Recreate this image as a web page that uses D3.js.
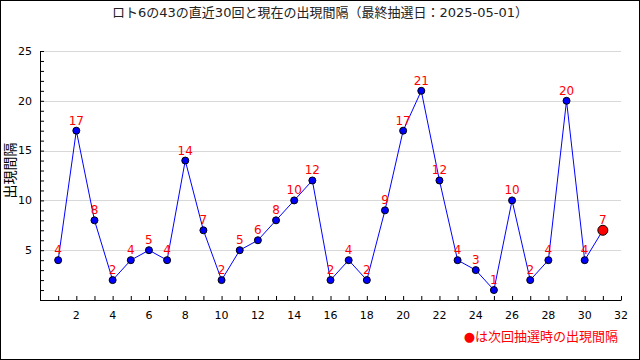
<!DOCTYPE html>
<html>
<head>
<meta charset="utf-8">
<script src="https://cdn.jsdelivr.net/npm/d3@7"></script>
<style>
  body { margin: 0; background: #fff; }
  text { font-family: "DejaVu Sans", "Noto Sans CJK JP", sans-serif; }
</style>
</head>
<body>
<div id="plot"></div>
<script>
// Width and height
const w = 640;
const h = 360;
const margin = {top: 51, right: 19, bottom: 60, left: 40};
const innerWidth = w - margin.left - margin.right;
const innerHeight = h - margin.top - margin.bottom;

// data
const title = "ロト6の43の直近30回と現在の出現間隔（最終抽選日：2025-05-01）";
const yLabel = "出現間隔";
const legendText = "●は次回抽選時の出現間隔";
const draws = d3.range(1, 31);
const gaps = [4, 17, 8, 2, 4, 5, 4, 14, 7, 2, 5, 6, 8, 10, 12, 2, 4, 2, 9, 17, 21, 12, 4, 3, 1, 10, 2, 4, 20, 4];
const nextDraw = 31;
const nextGap = 7;
const xTicks = [2, 4, 6, 8, 10, 12, 14, 16, 18, 20, 22, 24, 26, 28, 30, 32];
const yTicks = [5, 10, 15, 20, 25];

const series = draws.map((d, i) => ({x: d, y: gaps[i]}));
const current = {x: nextDraw, y: nextGap};

const svg = d3.select("div#plot")
  .append("svg")
    .attr("width", w)
    .attr("height", h);

// background + frame
svg.append("rect")
  .attr("x", 0.5).attr("y", 0.5)
  .attr("width", w - 1).attr("height", h - 1)
  .attr("fill", "#fff")
  .attr("stroke", "#000");

const g = svg.append("g")
  .attr("transform", `translate(${margin.left}, ${margin.top})`);

const xScale = d3.scaleLinear()
  .domain([0, 32])
  .range([0, innerWidth]);

const yScale = d3.scaleLinear()
  .domain([0, 25])
  .range([innerHeight, 0]);

// grid lines
g.append("g")
  .selectAll("line")
  .data(yTicks)
  .enter()
  .append("line")
    .attr("x1", 0)
    .attr("x2", innerWidth)
    .attr("y1", d => Math.round(yScale(d)) + 0.5)
    .attr("y2", d => Math.round(yScale(d)) + 0.5)
    .attr("stroke", "#d8d8d8");

// y axis, minor ticks inside
const yAxis = d3.axisRight(yScale)
  .tickValues(d3.range(1, 26))
  .tickSize(4)
  .tickFormat("");
g.append("g")
  .attr("id", "yaxis")
  .call(yAxis)
  .call(s => s.select(".domain").remove());

g.append("line")
  .attr("x1", 0.5).attr("x2", 0.5)
  .attr("y1", 0).attr("y2", innerHeight)
  .attr("stroke", "#000");

g.append("g")
  .selectAll("text")
  .data(yTicks)
  .enter()
  .append("text")
    .attr("x", -8)
    .attr("y", d => yScale(d))
    .attr("dy", "0.35em")
    .attr("text-anchor", "end")
    .style("font-size", "11px")
    .text(d => d);

// x axis, ticks pointing up
const xAxis = d3.axisTop(xScale)
  .tickValues(d3.range(1, 33))
  .tickSize(4)
  .tickFormat("");
g.append("g")
  .attr("id", "xaxis")
  .attr("transform", `translate(0, ${innerHeight})`)
  .call(xAxis)
  .call(s => s.select(".domain").remove());

g.append("line")
  .attr("x1", 0).attr("x2", innerWidth + 0.5)
  .attr("y1", innerHeight + 0.5).attr("y2", innerHeight + 0.5)
  .attr("stroke", "#000");

g.append("g")
  .selectAll("text")
  .data(xTicks)
  .enter()
  .append("text")
    .attr("x", d => xScale(d))
    .attr("y", innerHeight + 19)
    .attr("text-anchor", "middle")
    .style("font-size", "11px")
    .text(d => d);

// line
const line = d3.line()
  .x(d => xScale(d.x))
  .y(d => yScale(d.y));

g.append("path")
  .datum(series.concat([current]))
  .attr("d", line)
  .attr("fill", "none")
  .attr("stroke", "#0000ff")
  .attr("stroke-width", 1);

// points
g.selectAll("circle.pt")
  .data(series)
  .enter()
  .append("circle")
    .attr("class", "pt")
    .attr("cx", d => xScale(d.x))
    .attr("cy", d => yScale(d.y))
    .attr("r", 3.5)
    .attr("fill", "#0000ff")
    .attr("stroke", "#000")
    .attr("stroke-width", 1);

g.append("circle")
  .attr("cx", xScale(current.x))
  .attr("cy", yScale(current.y))
  .attr("r", 5)
  .attr("fill", "#ff0000")
  .attr("stroke", "#000")
  .attr("stroke-width", 1);

// value labels
g.selectAll("text.lbl")
  .data(series.concat([current]))
  .enter()
  .append("text")
    .attr("class", "lbl")
    .attr("x", d => xScale(d.x))
    .attr("y", d => yScale(d.y) - 6)
    .attr("text-anchor", "middle")
    .attr("fill", "#ff0000")
    .style("font-size", "12px")
    .text(d => d.y);

// title
svg.append("text")
  .attr("x", w / 2)
  .attr("y", 17)
  .attr("text-anchor", "middle")
  .style("font-size", "13px")
  .attr("fill", "#222")
  .text(title);

// y label
svg.append("text")
  .attr("transform", `translate(15, ${margin.top + innerHeight / 2 - 5}) rotate(-90)`)
  .attr("text-anchor", "middle")
  .style("font-size", "14px")
  .text(yLabel);

// legend
svg.append("text")
  .attr("x", margin.left + innerWidth - 3)
  .attr("y", 341)
  .attr("text-anchor", "end")
  .attr("fill", "#ff0000")
  .style("font-size", "13px")
  .text(legendText);
</script>
</body>
</html>
